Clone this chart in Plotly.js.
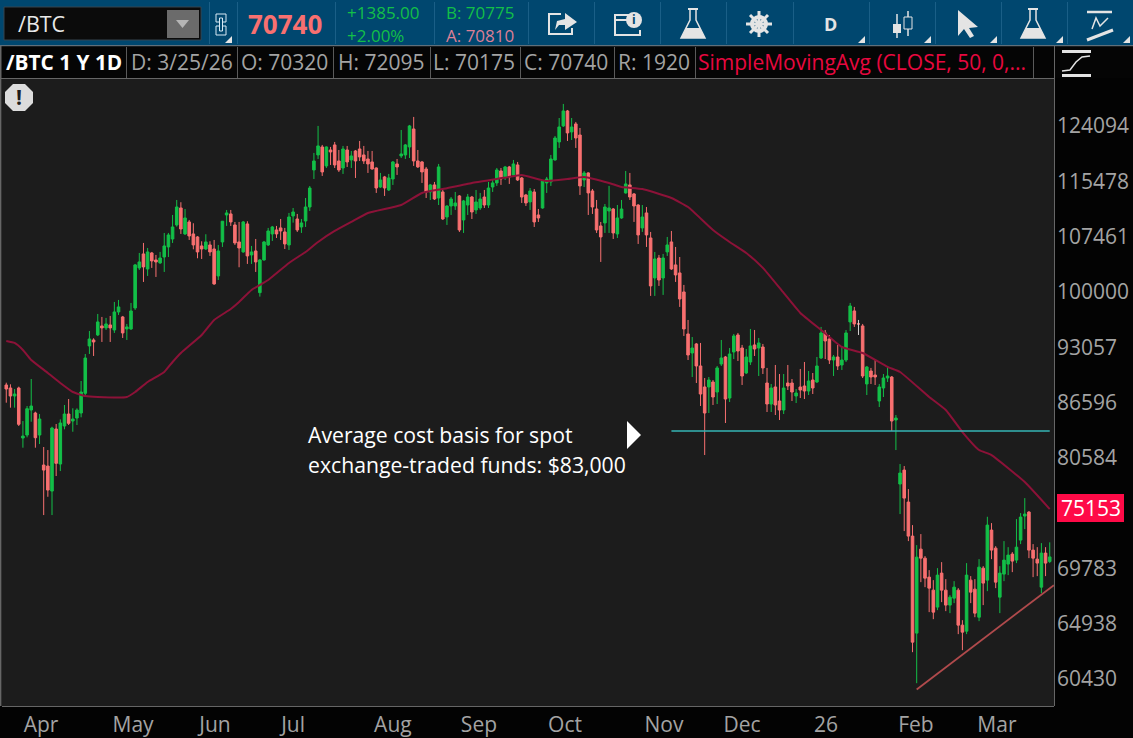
<!DOCTYPE html>
<html>
<head>
<meta charset="utf-8">
<script src="https://cdn.plot.ly/plotly-3.0.1.min.js"></script>
<style>
  html, body { margin: 0; padding: 0; background: #000; overflow: hidden; }
  #chart { width: 1133px; height: 738px; }
</style>
</head>
<body>
<div id="chart"></div>
<script>
// daily bars
const open = [
  88480,88135,87220,88135,82578,82902,85644,85311,82902,79725,
  79621,77070,83554,79829,83880,85200,84426,84756,85311,87528,
  93092,93818,94433,95549,95301,95673,95048,97304,96674,95177,
  95177,97808,103043,104935,102903,105071,104115,103713,104517,105895,
  106999,108969,111404,107701,109395,107701,107281,106033,105615,106171,
  105615,101972,106585,110396,110540,108969,106585,105207,109111,104799,
  105343,99781,104115,106171,107701,108261,108547,107981,106171,110252,
  109821,108685,109537,111548,117054,119365,120613,117669,120140,120930,
  118434,117356,120140,118587,119985,120295,119365,118740,118281,117356,
  114487,115997,114046,115689,117975,119210,119365,120613,123467,118434,
  118281,117205,113752,114795,112861,113752,110105,111692,111692,113163,
  109679,111836,113006,111116,111404,113006,111836,114487,115093,116903,
  115997,117513,116299,117822,115838,113310,112281,113752,110396,111404,
  115093,115242,118587,121400,123957,126396,122990,124279,122505,115540,
  116601,113899,111260,108827,109253,110972,111260,107701,109963,113605,
  114795,113458,111836,108547,110684,107137,101703,104383,101703,105207,
  106585,103445,102371,99871,94556,92245,93334,90698,88251,88251,
  88826,87676,90934,91765,86990,92365,94433,92848,89873,91170,
  93213,92848,92965,88711,86318,88251,86654,85644,88711,88711,
  87220,88251,88366,87790,89056,88826,91645,94679,93941,91406,
  91765,90816,91406,96045,97430,95797,95549,88596,90107,89639,
  86654,88135,89288,89405,84535,77778,79206,75975,72683,64061,
  71461,70627,68904,67747,66268,69264,67747,66440,67043,67747,
  64731,64225,68635,67835,65403,69714,68635,73253,71553,67131,
  69174,70082,71001,70446,72306,74604,74992,71369,70537,68011,
  71093,70320
];
const high = [
  88745,88560,88020,88285,84426,86094,89171,85455,85200,81620,
  81296,83805,84099,84612,86206,86878,85836,85836,88941,92125,
  94925,94027,97052,96674,96548,96800,98579,98835,96800,95797,
  98451,103579,105071,106447,105751,105207,104800,105207,107841,107841,
  110396,112571,112240,111260,109679,109210,107400,106680,107660,106680,
  106861,106171,109537,111116,111116,109395,109395,109537,109495,106033,
  106999,104249,106723,108547,108827,108827,109821,108547,110684,111404,
  110540,109821,112861,114635,119675,123957,120930,120700,120613,121400,
  120140,120770,120770,119985,120140,121557,120770,119985,119985,117450,
  116601,116148,116450,118434,118740,123308,121086,124118,125418,120140,
  118434,117513,114944,115242,117975,114046,111800,113006,113752,113300,
  112571,113458,113163,114046,113605,114046,115242,115540,117356,117356,
  117669,117669,118587,118281,115997,113458,114340,114193,111260,115540,
  115997,119365,122348,125245,127555,126559,125245,124601,123628,116903,
  116700,114193,112571,109395,111980,114646,111400,111836,112571,116903,
  116601,113600,111950,111836,111548,107981,105207,104799,104935,107281,
  108121,105895,104517,100786,96293,94180,93455,93455,89288,89405,
  89056,90698,93818,91885,92848,94556,94679,93213,92725,95173,
  95048,94064,93334,90464,88596,90816,89756,89756,90816,89171,
  88020,90347,91170,90107,89873,91765,95425,95048,94433,92005,
  93213,93092,95048,98451,97942,96293,95797,90698,90464,91524,
  88596,89756,90698,89522,85089,79829,79621,77270,73733,71836,
  72873,70817,69534,68635,69714,70264,68724,67307,68546,67923,
  65151,70173,68994,68724,70537,69895,74535,73925,71737,69895,
  72212,71645,71185,74309,74895,76367,75089,71930,71645,72024,
  71645,72095
];
const low = [
  86465,85905,85905,83880,81546,82654,84350,81546,81938,74701,
  76500,74701,78594,79104,83521,83990,83258,83990,84834,87140,
  92125,91885,94300,93576,95048,93576,94679,96926,94064,93818,
  95050,97556,102770,101179,101972,103043,101840,103579,102504,104517,
  106447,108730,107701,107561,106861,105570,104345,104249,105479,104663,
  100800,101441,105895,108827,108827,106171,103130,105100,103579,103579,
  102504,99265,104020,106033,106723,107137,106861,105615,105479,109300,
  107981,107841,108685,110972,115689,118740,116148,117356,117822,117356,
  116752,116450,117513,117356,115838,118434,117975,116601,117100,113605,
  114340,113163,113899,114795,116299,118893,118740,118893,117669,117356,
  115093,112861,112571,112571,111836,109679,108969,110396,111116,107981,
  107841,110396,109821,110540,111116,111404,111404,113752,114646,114795,
  115540,114944,116200,115391,112136,111692,111116,108685,109395,111300,
  113605,114646,118480,120455,123790,121557,121714,120455,113310,114487,
  110396,110540,107841,103847,107841,107841,106999,107137,109850,113500,
  112571,109395,106309,107981,105895,99355,99355,100655,99484,104663,
  102770,101179,97942,94310,91406,89405,88711,86094,80771,85311,
  86206,86318,90698,84208,86542,91524,91288,88481,89750,90816,
  91885,89522,89756,85422,85422,85089,84535,85200,87904,86654,
  86430,86990,86878,87334,87450,88720,91530,91524,90934,89522,
  90224,90224,91170,94925,95425,94433,89288,87334,88596,88481,
  85982,87106,88826,83334,81296,74798,73158,72212,62493,60020,
  68457,68011,65835,65235,66005,66698,65920,65750,66612,63976,
  62655,63976,66612,65403,65067,66440,67659,70537,67923,65750,
  68546,69084,69354,70173,71930,73348,70627,68904,68994,67483,
  68994,70175
];
const close = [
  88020,87220,87450,84066,82794,85792,86094,82610,84645,79205,
  77172,83663,79902,84208,85200,84175,84645,85644,87676,91645,
  93941,93576,96045,95301,95797,95301,97304,97942,94679,95425,
  97430,103445,103847,103177,105207,103981,103847,104383,106033,107561,
  108685,111548,108401,109963,107421,106171,105207,105615,106585,105207,
  100917,105343,109500,110684,109395,106447,105751,109395,104663,105207,
  103847,104115,106585,108121,108685,107701,108121,106309,110105,110828,
  108261,109253,111548,114340,118434,120772,116752,120613,119830,117822,
  117054,120295,118281,119210,118434,119055,118434,117975,117205,114340,
  115540,114340,115838,118281,117513,119520,120930,123957,118434,117513,
  116752,113752,114795,112716,117513,109821,111692,112716,112136,108261,
  112426,113006,110828,112281,112716,111836,114340,115093,117054,115689,
  117513,115997,117975,115540,113006,112136,113899,109395,109963,115391,
  115689,118740,122028,123790,126396,122830,123790,122028,114646,116601,
  113605,111548,108261,107281,111548,111404,107841,109963,111260,114944,
  113006,111692,107561,110105,107561,100655,104249,101441,104383,106171,
  102903,102105,98963,95173,92005,92848,90698,87448,85311,89056,
  87106,90464,91645,86878,92125,94310,92485,89522,91765,93092,
  92725,93455,90464,86318,88135,86206,85644,88135,88366,87676,
  87562,87904,87790,88941,88135,90698,94679,93697,91406,91765,
  90698,91406,94679,98065,95797,95797,89522,90581,89405,89405,
  88251,89288,89522,84426,84756,78900,76367,72683,63312,70719,
  70627,68814,67923,65835,69084,67747,66440,67131,68011,64731,
  64142,69084,67571,65750,69804,68368,73733,71369,68457,69264,
  70446,70909,70355,71645,74505,74798,71369,70627,70173,71093,
  70173,70740
];
const bars = open.map((_, i) => i);
const dojiBar = 205;

// 50 day average, sampled along the line
const smaBars = [0,2,4,6,10,13,16,19,22,29,31,34,38,40,42,47,50,54,56,59,63,68,72,75,79,83,87,95,100,105,112,118,124,126,130,135,139,145,148,153,160,164,170,174,178,182,187,191,196,201,206,212,215,222,226,230,234,237,245,251];
const smaValues = [93697,93455,92605,91406,89873,88711,87676,87220,87106,87106,87676,88826,89990,91170,92245,94433,96293,97682,98579,100129,101441,103713,105207,106585,108121,109395,110684,111836,113605,114193,115093,115689,116299,115997,115391,115689,115997,115093,114487,114193,112861,111548,108261,106585,105071,103043,99742,97178,95048,92965,92245,90581,89990,87106,85644,83226,81296,80771,77980,75283];

const costBars = [160, 251];
const costValues = [83334, 83334];
const trendBars = [219, 252];
const trendValues = [59530, 68190];

const priceTicks = [124094,115478,107461,100000,93057,86596,80584,69783,64938,60430];
const monthLabels = ['Apr','May','Jun','Jul','Aug','Sep','Oct','Nov','Dec','26','Feb','Mar'];
const monthTicks = [8.35,30.5,50.2,69,93,113.7,134.4,158.2,177,197.2,218.8,238.3];

// plot frame in page pixels, the chrome around it is placed from these
const W = 1133, H = 738;
const L = 2, T = 79, R = 1054, B = 706;
const px = x => (x - L) / (R - L);
const py = y => 1 - (y - T) / (B - T);

const GREEN = '#13bf48';
const RED = '#f87070';
const GREY = '#a3a3a3';
const ICON = '#e4e4e4';
const FONT = '"Open Sans", "Noto Sans", sans-serif';

function label(x, y, text, size, color, anchor) {
    return {
        xref: 'paper', yref: 'paper', x: px(x), y: py(y), text: text,
        showarrow: false, xanchor: anchor || 'left', yanchor: 'middle',
        font: { family: FONT, size: size, color: color }, borderpad: 0
    };
}

function rect(x0, y0, x1, y1, fill, line) {
    return {
        type: 'rect', xref: 'paper', yref: 'paper', layer: 'above',
        x0: px(x0), x1: px(x1), y0: py(y0), y1: py(y1),
        fillcolor: fill || 'rgba(0,0,0,0)',
        line: line ? { color: line, width: 1 } : { width: 0 }
    };
}

function circle(cx, cy, r, fill, line, width) {
    return {
        type: 'circle', xref: 'paper', yref: 'paper', layer: 'above',
        x0: px(cx - r), x1: px(cx + r), y0: py(cy - r), y1: py(cy + r),
        fillcolor: fill || 'rgba(0,0,0,0)',
        line: line ? { color: line, width: width || 1 } : { width: 0 }
    };
}

// pts in page pixels, closed when a fill is given
function poly(pts, fill, line, width) {
    const d = pts.map((p, i) => (i ? 'L' : 'M') + px(p[0]) + ',' + py(p[1])).join(' ') + (fill ? ' Z' : '');
    return {
        type: 'path', xref: 'paper', yref: 'paper', layer: 'above', path: d,
        fillcolor: fill || 'rgba(0,0,0,0)',
        line: line ? { color: line, width: width || 1 } : { width: 0 }
    };
}

function corner(x, y) {
    return poly([[x, y], [x, y - 7], [x - 7, y]], ICON);
}

function flask(cx) {
    return [
        poly([[cx - 5, 9], [cx + 5, 9]], null, ICON, 2),
        poly([[cx - 3, 10], [cx - 3, 20], [cx - 12, 38], [cx + 12, 38], [cx + 3, 20], [cx + 3, 10]], null, ICON, 1.5),
        poly([[cx - 7, 28], [cx + 7, 28], [cx + 12, 38], [cx - 12, 38]], ICON)
    ];
}

const shapes = [
    // top toolbar and study row
    rect(0, 0, W, 45, '#00476f'),
    rect(0, 45, W, 46.5, '#5f6f7a'),
    rect(0, 46.5, W, 78, '#050505'),
    rect(0, 78, 1054, 79, '#666666'),
    rect(1054, 46, 1055, 706, '#666666'),
    rect(0, 46, 1.5, 706, '#666666'),
    // symbol box
    rect(4, 7, 201, 40, '#0b0b0b', '#37454f'),
    rect(167, 10, 199, 38, '#6b6b6b'),
    poly([[176, 20], [189, 20], [182.5, 28]], '#b5b5b5'),
    // link
    rect(216, 14, 226, 22, null, '#d8eaf5'),
    rect(216, 26, 226, 35, null, '#d8eaf5'),
    rect(219.5, 18, 222.5, 31, '#00476f', '#d8eaf5'),
    corner(232, 43),
    // share
    poly([[561, 14], [549, 14], [549, 34], [572, 34], [572, 28]], null, ICON, 2),
    poly([[555, 30], [557, 21], [565, 19], [565, 13], [577, 22], [565, 30], [565, 25], [559, 25]], ICON),
    // message with info badge
    poly([[639, 15], [615, 15], [615, 35], [640, 35], [640, 30]], null, ICON, 2),
    poly([[615, 20], [628, 20]], null, ICON, 2),
    circle(634, 20, 8, ICON),
    ...flask(693),
    // gear
    circle(759, 24, 7, null, ICON, 4),
    poly([[759, 11], [759, 37]], null, ICON, 3),
    poly([[746, 24], [772, 24]], null, ICON, 3),
    poly([[750, 15], [768, 33]], null, ICON, 3),
    poly([[768, 15], [750, 33]], null, ICON, 3),
    corner(865, 43),
    // candle pair
    poly([[897, 14], [897, 38]], null, ICON, 1.5),
    rect(893, 24, 901, 33, ICON),
    poly([[908, 11], [908, 36]], null, ICON, 1.5),
    rect(904, 17, 912, 29, '#00476f', ICON),
    corner(931, 43),
    // pointer
    poly([[958, 10], [958, 36], [964, 29], [970, 38], [974, 36], [969, 28], [978, 27]], ICON),
    corner(997, 43),
    ...flask(1033),
    corner(1063, 43),
    // drawing tools
    poly([[1087, 12], [1112, 12]], null, ICON, 2.5),
    poly([[1092, 29], [1096, 18], [1100, 26], [1108, 18]], null, ICON, 1.5),
    poly([[1087, 40], [1113, 30]], null, ICON, 3),
    corner(1130, 43),
    // toolbar dividers
    ...[209, 237, 335, 434, 528, 594, 660, 726, 793, 869, 935, 1001, 1067].map(x => rect(x, 2, x + 1, 44, '#1a5f87')),
    // study row dividers
    ...[126, 237, 333, 430, 520, 614, 695, 1033].map(x => rect(x, 47, x + 1, 78, '#5a5a5a')),
    // study toggle
    rect(1062, 50, 1091, 53, ICON),
    rect(1062, 74, 1091, 77, ICON),
    poly([[1062, 71], [1070, 70], [1076, 62], [1082, 57], [1090, 56]], null, ICON, 1.5),
    // alert badge
    poly([[13, 84], [25, 84], [33, 92], [33, 103], [25, 111], [13, 111], [5, 103], [5, 92]], '#dcdcdc'),
    // cost basis marker
    poly([[627, 421], [641, 435], [627, 449]], '#ffffff'),
    // last average price
    rect(1057, 494, 1124, 522, '#ff0a47')
];

const annotations = [
    label(17, 24, '/BTC', 21.5, '#e8e8e8'),
    label(247, 24, '<b>70740</b>', 26, RED),
    label(346, 12.5, '+1385.00', 17, GREEN),
    label(346, 35.5, '+2.00%', 17, GREEN),
    label(445, 12.5, 'B: 70775', 17, GREEN),
    label(445, 35.5, 'A: 70810', 17, '#dc7f96'),
    label(830, 24, '<b>D</b>', 18, ICON, 'center'),
    label(634, 20, '<b>i</b>', 12, '#00476f', 'center'),
    label(5, 62, '<b>/BTC 1 Y 1D</b>', 20.8, '#ffffff'),
    label(130, 62, 'D: 3/25/26', 21, GREY),
    label(240, 62, 'O: 70320', 21, GREY),
    label(337, 62, 'H: 72095', 21, GREY),
    label(432, 62, 'L: 70175', 21, GREY),
    label(523, 62, 'C: 70740', 21, GREY),
    label(617, 62, 'R: 1920', 21, GREY),
    label(697, 62, 'SimpleMovingAvg (CLOSE, 50, 0,...', 21, '#e8083f'),
    label(19, 97, '<b>!</b>', 21, '#1c1c1c', 'center'),
    label(307, 434, 'Average cost basis for spot', 21.2, '#ffffff'),
    label(307, 464, 'exchange-traded funds: $83,000', 21.2, '#ffffff'),
    label(1090.5, 508, '75153', 21, '#ffffff', 'center')
];

const candles = {
    type: 'candlestick',
    x: bars, open: open, high: high, low: low, close: close,
    increasing: { line: { color: GREEN, width: 1 }, fillcolor: GREEN },
    decreasing: { line: { color: RED, width: 1 }, fillcolor: RED },
    whiskerwidth: 0,
    hoverinfo: 'skip'
};
const doji = {
    type: 'scatter', mode: 'lines',
    x: [dojiBar, dojiBar], y: [high[dojiBar], low[dojiBar]],
    line: { color: '#d0d0d0', width: 1 }, hoverinfo: 'skip'
};
const sma = {
    type: 'scatter', mode: 'lines', x: smaBars, y: smaValues,
    line: { color: '#8c1238', width: 2, shape: 'spline', smoothing: 0.4 }, hoverinfo: 'skip'
};
const cost = {
    type: 'scatter', mode: 'lines', x: costBars, y: costValues,
    line: { color: '#35b4b4', width: 1.5 }, hoverinfo: 'skip'
};
const trend = {
    type: 'scatter', mode: 'lines', x: trendBars, y: trendValues,
    line: { color: '#b04a4c', width: 1.8 }, hoverinfo: 'skip', cliponaxis: true
};

const layout = {
    width: W, height: H,
    margin: { l: L, t: T, r: W - R, b: H - B, pad: 0 },
    paper_bgcolor: '#030303',
    plot_bgcolor: '#1c1c1c',
    showlegend: false,
    boxgap: 0.12,
    font: { family: FONT },
    xaxis: {
        type: 'linear',
        range: [-1.03, 252.03],
        rangeslider: { visible: false },
        showgrid: false, zeroline: false,
        tickmode: 'array', tickvals: monthTicks, ticktext: monthLabels,
        ticks: '', tickfont: { size: 21, color: GREY, family: FONT },
        showline: true, linecolor: '#666666', linewidth: 1
    },
    yaxis: {
        type: 'log',
        range: [4.7654, 5.1198],
        side: 'right',
        showgrid: false, zeroline: false,
        tickmode: 'array', tickvals: priceTicks, ticktext: priceTicks.map(String),
        ticks: '', tickfont: { size: 21, color: GREY, family: FONT },
        ticklabelstandoff: 2,
        ticklabelshift: 1,
        showline: false
    },
    shapes: shapes,
    annotations: annotations
};

Plotly.newPlot('chart', [candles, sma, cost, trend, doji], layout, { displayModeBar: false, staticPlot: true });
</script>
</body>
</html>
